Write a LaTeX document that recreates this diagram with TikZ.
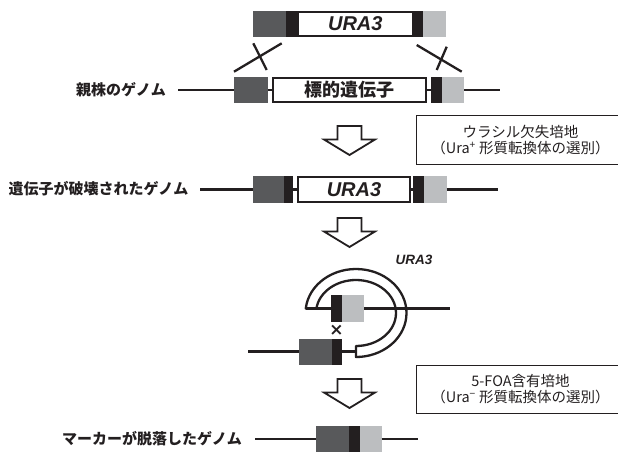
\documentclass[tikz,border=0pt]{standalone}
\usepackage{fontspec}
\setmainfont{Liberation Sans}
\newfontfamily\jp{Noto Sans CJK JP}
\newfontfamily\dv{DejaVu Sans}
\definecolor{dg}{HTML}{58595B}
\definecolor{bk}{HTML}{231F20}
\definecolor{lg}{HTML}{BCBEC0}
\begin{document}
\begin{tikzpicture}[x=1pt,y=-1pt,
  seg/.style={anchor=north west, inner sep=0pt, outer sep=0pt, draw=none},
  dgbox/.style={seg, fill=dg},
  bkbox/.style={seg, fill=bk},
  lgbox/.style={seg, fill=lg},
  genebox/.style={seg, fill=white, draw=bk, line width=2.5pt},
  gline/.style={draw=bk, line width=2.4pt},
  xline/.style={draw=bk, line width=2.3pt},
  barrow/.style={draw=bk, fill=white, line width=1.8pt, line join=miter},
  gname/.style={font=\jp\bfseries\fontsize{15}{18}\selectfont, text=bk},
  ura/.style={font=\bfseries\itshape\fontsize{20}{20}\selectfont, text=bk},
  infobox/.style={anchor=north west, draw=bk, line width=1pt, align=center,
     inner sep=0pt, font=\jp\fontsize{14.5}{16}\selectfont, text=bk}
]
\useasboundingbox (0,0) rectangle (618,452);

% ---------- top construct ----------
\node[dgbox, minimum width=33.3pt, minimum height=26pt] (tdg) at (252.7,11) {};
\node[bkbox, minimum width=11.3pt, minimum height=26pt] (tbk1) at (286,11) {};
\node[bkbox, minimum width=10pt, minimum height=26pt] (tbk2) at (413.3,11) {};
\node[lgbox, minimum width=22.7pt, minimum height=26pt] (tlg) at (423.3,11) {};
\node[genebox, minimum width=116pt, minimum height=24pt, yshift=-1pt, ura] (tura) at (297.3,11) {URA3};

% ---------- genome 1 ----------
\coordinate (g1L) at (178,90);
\coordinate (g1R) at (500,90);
\node[dgbox, minimum width=34.3pt, minimum height=26pt] (g1dg) at (234,77) {};
\node[bkbox, minimum width=11pt, minimum height=26pt] (g1bk) at (430.7,77) {};
\node[lgbox, minimum width=22.3pt, minimum height=26pt] (g1lg) at (441.7,77) {};
\node[genebox, minimum width=153pt, minimum height=24pt, yshift=-1pt,
      font=\jp\bfseries\fontsize{18}{20}\selectfont, text=bk] (g1tg) at (273.2,77) {標的遺伝子};
\draw[gline] (g1L) -- (g1dg.west);
\draw[gline] (g1dg.east) -- (g1tg.west);
\draw[gline] (g1tg.east) -- (g1bk.west);
\draw[gline] (g1lg.east) -- (g1R);
\node[gname] (lab1) at (121,89.5) {親株のゲノム};

% crossover lines
\coordinate (cxa1) at (234,71.7);   \coordinate (cxa2) at (281.7,43.3);
\coordinate (cxb1) at (253.3,43.3); \coordinate (cxb2) at (266.7,70);
\coordinate (cxc1) at (416.7,45);   \coordinate (cxc2) at (461.7,71.7);
\coordinate (cxd1) at (446.7,46.7); \coordinate (cxd2) at (436.7,70);
\draw[xline] (cxa1) -- (cxa2);
\draw[xline] (cxb1) -- (cxb2);
\draw[xline] (cxc1) -- (cxc2);
\draw[xline] (cxd1) -- (cxd2);

% ---------- arrows ----------
\foreach \t in {126,218,379} {
  \draw[barrow] (337.5,\t) -- ++(24,0) -- ++(0,13.5) -- ++(13.5,0)
     -- (349.5,\t+29) -- (324,\t+13.5) -- ++(13.5,0) -- cycle;
}

% ---------- info boxes ----------
\node[infobox, minimum width=208pt, minimum height=49.3pt] (sel1) at (416,115)
  {ウラシル欠失培地\\（Ura\textsuperscript{+} 形質転換体の選別）};
\node[infobox, minimum width=208pt, minimum height=48pt] (sel2) at (416,365)
  {5-FOA含有培地\\（Ura\textsuperscript{−} 形質転換体の選別）};

% ---------- genome 2 ----------
\coordinate (g2L) at (200,189.5);
\coordinate (g2R) at (498,189.5);
\node[dgbox, minimum width=31.6pt, minimum height=27pt] (g2dg) at (252.7,176) {};
\node[bkbox, minimum width=9pt, minimum height=27pt] (g2bk1) at (284.3,176) {};
\node[bkbox, minimum width=11pt, minimum height=27pt] (g2bk2) at (413.3,176) {};
\node[lgbox, minimum width=22.4pt, minimum height=27pt] (g2lg) at (424.3,176) {};
\node[genebox, minimum width=112.4pt, minimum height=25pt, yshift=-1pt, ura] (g2ura) at (297.8,176) {URA3};
\draw[gline] (g2L) -- (g2dg.west);
\draw[gline] (g2bk1.east) -- (g2ura.west);
\draw[gline] (g2ura.east) -- (g2bk2.west);
\draw[gline] (g2lg.east) -- (g2R);
\node[gname] (lab2) at (98.5,189) {遺伝子が破壊されたゲノム};

% ---------- plasmid integration ----------
\draw[draw=bk, fill=white, line width=2.3pt, line join=round]
  (356,313) ++(185.87:50.5 and 44)
  arc[start angle=185.87, end angle=450, x radius=50.5, y radius=44]
  -- (356,346)
  arc[start angle=450, end angle=187.84, x radius=40, y radius=33] -- cycle;
\coordinate (ringL) at (305.8,308.5);
\coordinate (ringB) at (356,351.5);
\coordinate (upR) at (450,308.5);
\coordinate (lowL) at (248,351.5);
\node[bkbox, minimum width=10.7pt, minimum height=27pt] (pbk) at (331,295) {};
\node[lgbox, minimum width=22.3pt, minimum height=27pt] (plg) at (341.7,295) {};
\node[dgbox, minimum width=32.4pt, minimum height=26pt] (ldg) at (299.3,338.5) {};
\node[bkbox, minimum width=10pt, minimum height=26pt] (lbk) at (331.7,338.5) {};
\draw[gline] (ringL) -- (pbk.west);
\draw[gline] (plg.east) -- (upR);
\draw[gline] (lowL) -- (ldg.west);
\draw[gline] (lbk.east) -- (ringB);
\node[font=\dv\bfseries\fontsize{17}{18}\selectfont, text=bk, inner sep=0pt] (xmark) at (336.5,330.5) {×};
\node[font=\bfseries\itshape\fontsize{13.5}{14}\selectfont, text=bk] (ringlab) at (414,260) {URA3};

% ---------- genome 4 ----------
\coordinate (m4L) at (255,439);
\coordinate (m4R) at (418,439);
\node[dgbox, minimum width=33pt, minimum height=26pt] (m4dg) at (316,426) {};
\node[bkbox, minimum width=11pt, minimum height=26pt] (m4bk) at (349,426) {};
\node[lgbox, minimum width=21.7pt, minimum height=26pt] (m4lg) at (360,426) {};
\draw[gline] (m4L) -- (m4dg.west);
\draw[gline] (m4lg.east) -- (m4R);
\node[gname] (lab3) at (152,439) {マーカーが脱落したゲノム};
\end{tikzpicture}
\end{document}
